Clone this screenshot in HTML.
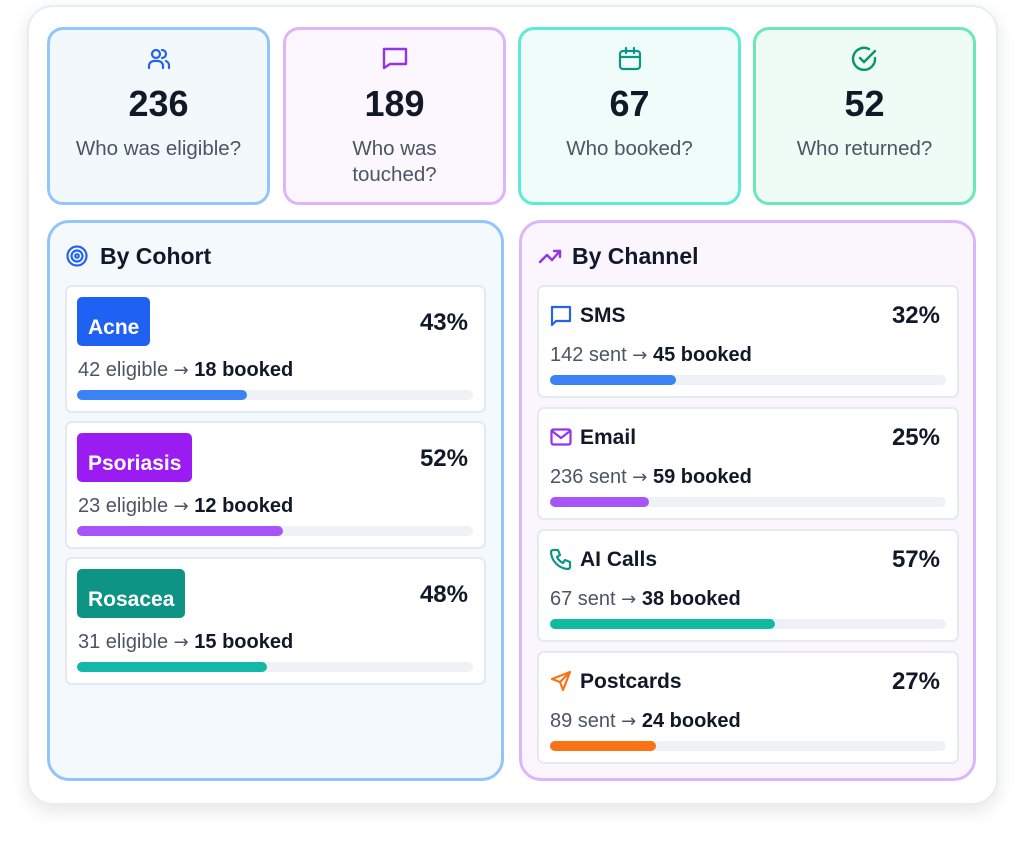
<!DOCTYPE html>
<html><head><meta charset="utf-8"><style>
*{box-sizing:border-box;margin:0;padding:0}
body{width:1024px;height:850px;background:#fff;font-family:"Liberation Sans",sans-serif;position:relative;overflow:hidden;color:#111827}
.abs{position:absolute}
.outer{left:27px;top:5px;width:971px;height:800px;border-radius:26px;background:#fff;border:2px solid #e8edf3;box-shadow:0 6px 18px rgba(0,0,0,0.10)}
.stat{top:27px;width:223px;height:178px;border-radius:16px;border:3px solid;text-align:center}
.stat .ic{position:absolute;left:0;right:0;top:15px;height:28px}
.stat .num{position:absolute;left:0;right:0;top:54px;font-size:36px;font-weight:bold;color:#111827;line-height:40px}
.stat .lbl{position:absolute;left:0;right:0;top:106px;font-size:20.5px;color:#4b5563;line-height:26px}
.panel{top:220px;width:457px;height:561px;border-radius:22px;border:3px solid}
.title{font-size:23px;font-weight:bold;top:242px;line-height:28px}
.row{background:#fff;border:2px solid #e5e9f0;border-radius:7px}
.badge{color:#fff;font-weight:bold;font-size:21px;border-radius:5px;padding:0 11px;height:49px;line-height:62px}
.pct{font-size:24px;font-weight:bold;line-height:28px;text-align:right}
.sub{font-size:20px;color:#4b5563;line-height:24px;white-space:nowrap}
.sub b{color:#111827}
.ar{font-family:"DejaVu Sans",sans-serif;font-size:18px}
.track{height:10px;border-radius:5px;background:#eef2f6}
.fill{height:10px;border-radius:5px}
.cl{font-size:21px;font-weight:bold;line-height:24px}
</style></head><body>
<div class="abs outer"></div>

<div class="abs stat" style="left:47px;border-color:#93c5fd;background:#f3f8fc">
<svg class="ic" viewBox="0 0 28 28" width="28" height="28" style="margin:auto" fill="none" stroke="#2563eb" stroke-width="2.2" stroke-linecap="round"><circle cx="11" cy="9" r="4"/><path d="M4 23v-2a5 5 0 0 1 5-5h4a5 5 0 0 1 5 5v2"/><path d="M17 5a4 4 0 0 1 0 8"/><path d="M21 16a5 5 0 0 1 3 5v2"/></svg>
<div class="num">236</div><div class="lbl">Who was eligible?</div></div>

<div class="abs stat" style="left:283px;border-color:#e0b4fb;background:#fcf6fe">
<svg class="ic" viewBox="0 0 28 28" width="28" height="28" style="margin:auto" fill="none" stroke="#9333ea" stroke-width="2.4" stroke-linejoin="round"><path d="M3 4h22v15H9l-6 4z"/></svg>
<div class="num">189</div><div class="lbl">Who was<br>touched?</div></div>

<div class="abs stat" style="left:518px;border-color:#5eead4;background:#f0fcf9">
<svg class="ic" viewBox="0 0 28 28" width="28" height="28" style="margin:auto" fill="none" stroke="#0d9488" stroke-width="2.2" stroke-linecap="round"><rect x="4" y="6" width="20" height="18" rx="3"/><path d="M4 12h20M10 3v5M18 3v5"/></svg>
<div class="num">67</div><div class="lbl">Who booked?</div></div>

<div class="abs stat" style="left:753px;border-color:#6ee7b7;background:#effcf6">
<svg class="ic" viewBox="0 0 28 28" width="28" height="28" style="margin:auto" fill="none" stroke="#059669" stroke-width="2.4" stroke-linecap="round"><path d="M24 13a11 11 0 1 1-6-9"/><path d="M9 13l4 4 11-11"/></svg>
<div class="num">52</div><div class="lbl">Who returned?</div></div>

<div class="abs panel" style="left:47px;border-color:#93c5fd;background:#f4f9fd"></div>
<svg class="abs" style="left:66px;top:245px" width="22" height="22" viewBox="0 0 22 22" fill="none" stroke="#2563eb" stroke-width="2.2"><circle cx="11" cy="11" r="9.5"/><circle cx="11" cy="11" r="5.5"/><circle cx="11" cy="11" r="1.8"/></svg>
<div class="abs title" style="left:100px">By Cohort</div>

<div class="abs panel" style="left:519px;border-color:#dcb6fa;background:#fbf6fe"></div>
<svg class="abs" style="left:538px;top:247px" width="24" height="18" viewBox="0 0 24 18" fill="none" stroke="#9333ea" stroke-width="2.4" stroke-linecap="round" stroke-linejoin="round"><path d="M2 15l7-7 5 5 8-9"/><path d="M16 4h6v6"/></svg>
<div class="abs title" style="left:572px">By Channel</div>

<!-- cohort rows -->
<div class="abs row" style="left:65px;top:285px;width:421px;height:128px"></div>
<div class="abs badge" style="left:77px;top:297px;background:#1f62f3">Acne</div>
<div class="abs pct" style="left:370px;top:309px;width:98px">43%</div>
<div class="abs sub" style="left:78px;top:358px">42 eligible <span class="ar">→</span> <b>18 booked</b></div>
<div class="abs track" style="left:77px;top:390px;width:396px"></div>
<div class="abs fill" style="left:77px;top:390px;width:170px;background:#3b82f6"></div>

<div class="abs row" style="left:65px;top:421px;width:421px;height:128px"></div>
<div class="abs badge" style="left:77px;top:433px;background:#9a1cf2">Psoriasis</div>
<div class="abs pct" style="left:370px;top:445px;width:98px">52%</div>
<div class="abs sub" style="left:78px;top:494px">23 eligible <span class="ar">→</span> <b>12 booked</b></div>
<div class="abs track" style="left:77px;top:526px;width:396px"></div>
<div class="abs fill" style="left:77px;top:526px;width:206px;background:#a855f7"></div>

<div class="abs row" style="left:65px;top:557px;width:421px;height:128px"></div>
<div class="abs badge" style="left:77px;top:569px;background:#0e9484">Rosacea</div>
<div class="abs pct" style="left:370px;top:581px;width:98px">48%</div>
<div class="abs sub" style="left:78px;top:630px">31 eligible <span class="ar">→</span> <b>15 booked</b></div>
<div class="abs track" style="left:77px;top:662px;width:396px"></div>
<div class="abs fill" style="left:77px;top:662px;width:190px;background:#14b8a6"></div>

<!-- channel rows -->
<div class="abs row" style="left:537px;top:285px;width:422px;height:113px"></div>
<svg class="abs" style="left:550px;top:305px" width="22" height="22" viewBox="0 0 22 22" fill="none" stroke="#2563eb" stroke-width="2.2" stroke-linejoin="round"><path d="M2 2h18v14H6l-4 4z"/></svg>
<div class="abs cl" style="left:580px;top:304px">SMS</div>
<div class="abs pct" style="left:840px;top:302px;width:100px">32%</div>
<div class="abs sub" style="left:550px;top:343px">142 sent <span class="ar">→</span> <b>45 booked</b></div>
<div class="abs track" style="left:550px;top:375px;width:396px"></div>
<div class="abs fill" style="left:550px;top:375px;width:126px;background:#3b82f6"></div>

<div class="abs row" style="left:537px;top:407px;width:422px;height:113px"></div>
<svg class="abs" style="left:550px;top:428px" width="22" height="18" viewBox="0 0 22 18" fill="none" stroke="#9333ea" stroke-width="2.2" stroke-linejoin="round"><rect x="1.5" y="1.5" width="19" height="15" rx="2"/><path d="M2 3l9 7 9-7"/></svg>
<div class="abs cl" style="left:580px;top:426px">Email</div>
<div class="abs pct" style="left:840px;top:424px;width:100px">25%</div>
<div class="abs sub" style="left:550px;top:465px">236 sent <span class="ar">→</span> <b>59 booked</b></div>
<div class="abs track" style="left:550px;top:497px;width:396px"></div>
<div class="abs fill" style="left:550px;top:497px;width:99px;background:#a855f7"></div>

<div class="abs row" style="left:537px;top:529px;width:422px;height:113px"></div>
<svg class="abs" style="left:550px;top:548px" width="22" height="22" viewBox="0 0 22 22" fill="none" stroke="#0d9488" stroke-width="2.2" stroke-linejoin="round"><path d="M3 2h5l2 5-3 2a12 12 0 0 0 6 6l2-3 5 2v5a2 2 0 0 1-2 2A18 18 0 0 1 1 4a2 2 0 0 1 2-2z"/></svg>
<div class="abs cl" style="left:580px;top:548px">AI Calls</div>
<div class="abs pct" style="left:840px;top:546px;width:100px">57%</div>
<div class="abs sub" style="left:550px;top:587px">67 sent <span class="ar">→</span> <b>38 booked</b></div>
<div class="abs track" style="left:550px;top:619px;width:396px"></div>
<div class="abs fill" style="left:550px;top:619px;width:225px;background:#10b9a0"></div>

<div class="abs row" style="left:537px;top:651px;width:422px;height:113px"></div>
<svg class="abs" style="left:550px;top:670px" width="22" height="22" viewBox="0 0 22 22" fill="none" stroke="#f97316" stroke-width="2.2" stroke-linejoin="round"><path d="M20 2L2 9l8 3 3 8z"/><path d="M10 12l10-10"/></svg>
<div class="abs cl" style="left:580px;top:670px">Postcards</div>
<div class="abs pct" style="left:840px;top:668px;width:100px">27%</div>
<div class="abs sub" style="left:550px;top:709px">89 sent <span class="ar">→</span> <b>24 booked</b></div>
<div class="abs track" style="left:550px;top:741px;width:396px"></div>
<div class="abs fill" style="left:550px;top:741px;width:106px;background:#f97316"></div>
</body></html>
